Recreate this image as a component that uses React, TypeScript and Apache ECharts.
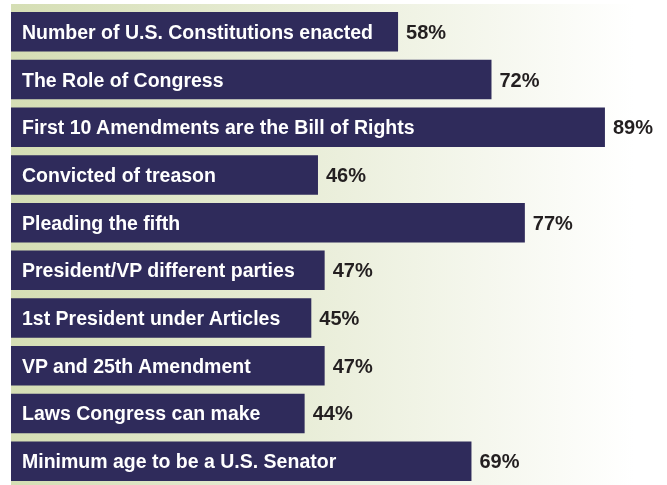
import React, { useEffect, useRef } from "react";
import * as echarts from "echarts";

const categories = [
  "Number of U.S. Constitutions enacted",
  "The Role of Congress",
  "First 10 Amendments are the Bill of Rights",
  "Convicted of treason",
  "Pleading the fifth",
  "President/VP different parties",
  "1st President under Articles",
  "VP and 25th Amendment",
  "Laws Congress can make",
  "Minimum age to be a U.S. Senator",
];
const values = [58, 72, 89, 46, 77, 47, 45, 47, 44, 69];

export default function App() {
  const ref = useRef<HTMLDivElement>(null);
  useEffect(() => {
    if (!ref.current) return;
    const chart = echarts.init(ref.current, undefined, { renderer: "svg" });
    chart.setOption({
      animation: false,
      graphic: [
        {
          type: "rect",
          z: -10,
          shape: { x: 11, y: 4, width: 656, height: 481 },
          style: {
            fill: new echarts.graphic.LinearGradient(0, 0, 1, 0, [
              { offset: 0, color: "#d5deb4" },
              { offset: 0.5, color: "#ebefdc" },
              { offset: 0.95, color: "#ffffff" },
              { offset: 1, color: "#ffffff" },
            ]),
          },
        },
      ],
      grid: { left: 11, top: 8, right: 0, height: 480, containLabel: false },
      xAxis: {
        type: "value",
        min: 0,
        max: 98.3,
        show: false,
      },
      yAxis: {
        type: "category",
        data: categories,
        inverse: true,
        z: 10,
        axisLine: { show: false },
        axisTick: { show: false },
        splitLine: { show: false },
        axisLabel: {
          inside: true,
          margin: 11,
          color: "#ffffff",
          fontWeight: "bold",
          fontSize: 19.5,
          fontFamily: "Liberation Sans",
          padding: [0, 0, 2, 0],
        },
      },
      series: [
        {
          type: "bar",
          data: values,
          barWidth: 39.5,
          itemStyle: { color: "#2f2b5b" },
          label: {
            show: true,
            position: "right",
            distance: 8,
            formatter: "{c}%",
            color: "#231f20",
            fontWeight: "bold",
            fontSize: 20,
            fontFamily: "Liberation Sans",
          },
        },
      ],
    });
    return () => chart.dispose();
  }, []);
  return (
    <div
      ref={ref}
      style={{ position: "fixed", left: 0, top: 0, width: 667, height: 485 }}
    />
  );
}
